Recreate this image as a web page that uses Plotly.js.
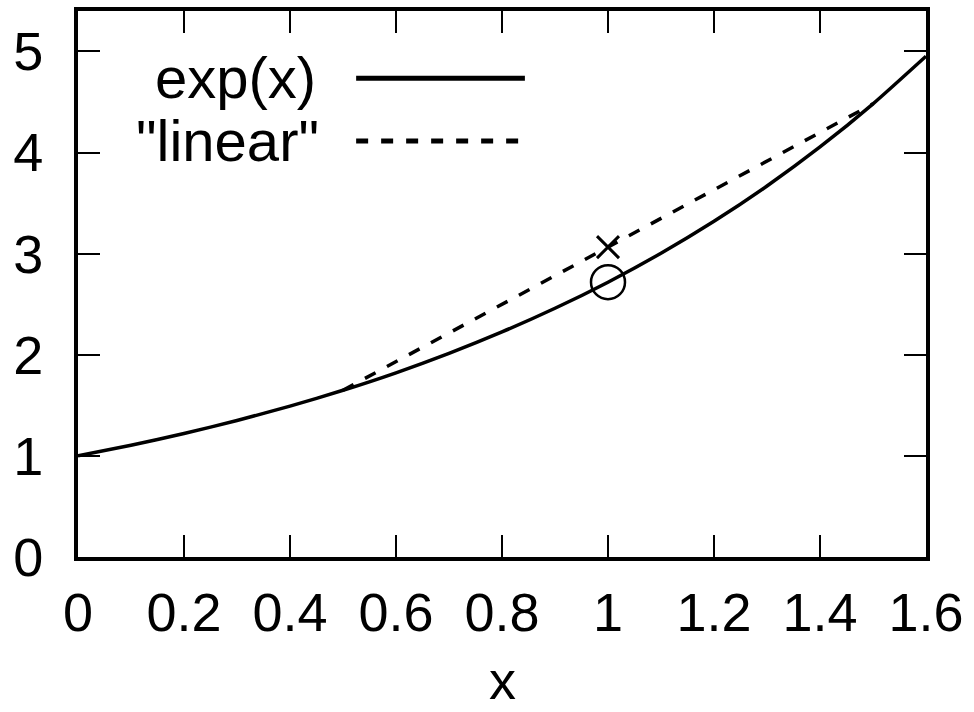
<!DOCTYPE html>
<html>
<head>
<meta charset="utf-8">
<script src="https://cdn.plot.ly/plotly-3.0.1.min.js"></script>
<style>html,body{margin:0;padding:0;background:#fff;}#chart{width:974px;height:712px;}</style>
</head>
<body>
<div id="chart"></div>
<script>
// exp(x) curve
const expX = [0, 0.1, 0.2, 0.3, 0.4, 0.5, 0.6, 0.7, 0.8, 0.9, 1.0, 1.1, 1.2, 1.3, 1.4, 1.5, 1.6];
const expY = [1.000, 1.105, 1.221, 1.350, 1.492, 1.649, 1.822, 2.014, 2.226, 2.460, 2.718, 3.004, 3.320, 3.669, 4.055, 4.482, 4.953];
// "linear" chord
const linX = [0.5, 1.5];
const linY = [1.649, 4.482];
// markers
const crossX = [1.0];
const crossY = [3.065];
const circX = [1.0];
const circY = [2.718];
// ticks
const xTicks = [0, 0.2, 0.4, 0.6, 0.8, 1, 1.2, 1.4, 1.6];
const xTickText = ["0", "0.2", "0.4", "0.6", "0.8", "1", "1.2", "1.4", "1.6"];
const yTicks = [0, 1, 2, 3, 4, 5];
const legendNames = ["exp(x)", "\"linear\""];
const xTitle = "x";

const FONT = "Liberation Sans, Arial, sans-serif";
const traces = [
  {x: expX, y: expY, mode: "lines", line: {color: "#000", width: 3.5, shape: "spline", smoothing: 0.6}, showlegend: false, hoverinfo: "skip"},
  {x: linX, y: linY, mode: "lines", line: {color: "#000", width: 3.5, dash: "12px,13px"}, showlegend: false, hoverinfo: "skip"},
  {x: crossX, y: crossY, mode: "markers", marker: {symbol: "x-thin-open", size: 22, color: "#000", line: {color: "#000", width: 3}}, showlegend: false},
  {x: circX, y: circY, mode: "markers", marker: {symbol: "circle-open", size: 34, color: "#000", line: {color: "#000", width: 2.5}}, showlegend: false}
];

const layout = {
  width: 974, height: 712,
  margin: {l: 78, r: 48, t: 11, b: 155},
  paper_bgcolor: "#fff", plot_bgcolor: "#fff",
  font: {family: FONT, color: "#000", size: 54},
  xaxis: {
    range: [0, 1.6], tickvals: xTicks, ticktext: xTickText,
    ticks: "inside", ticklen: 22, tickwidth: 2, tickcolor: "#000",
    showline: true, linewidth: 4, linecolor: "#000", mirror: "ticks",
    showgrid: false, zeroline: false, ticklabelstandoff: 5,
    tickfont: {size: 54, family: FONT}
  },
  yaxis: {
    range: [0, 5.4], tickvals: yTicks,
    ticks: "inside", ticklen: 22, tickwidth: 2, tickcolor: "#000",
    showline: true, linewidth: 4, linecolor: "#000", mirror: "ticks",
    showgrid: false, zeroline: false, ticklabelstandoff: 20,
    tickfont: {size: 54, family: FONT}
  },
  annotations: [
    {xref: "paper", yref: "paper", x: 0.5, y: -0.226, xanchor: "center", yanchor: "middle", text: xTitle, showarrow: false, font: {size: 54, family: FONT}},
    {xref: "paper", yref: "paper", x: 0.283, y: 0.878, xanchor: "right", yanchor: "middle", text: legendNames[0], showarrow: false, font: {size: 58, family: FONT}},
    {xref: "paper", yref: "paper", x: 0.287, y: 0.762, xanchor: "right", yanchor: "middle", text: legendNames[1], showarrow: false, font: {size: 58, family: FONT}}
  ],
  shapes: [
    {type: "line", xref: "paper", yref: "paper", x0: 0.328, x1: 0.527, y0: 0.877, y1: 0.877, line: {color: "#000", width: 5}},
    {type: "line", xref: "paper", yref: "paper", x0: 0.328, x1: 0.527, y0: 0.762, y1: 0.762, line: {color: "#000", width: 5, dash: "12px,13px"}}
  ]
};

Plotly.newPlot("chart", traces, layout, {staticPlot: true, displayModeBar: false});
</script>
</body>
</html>
